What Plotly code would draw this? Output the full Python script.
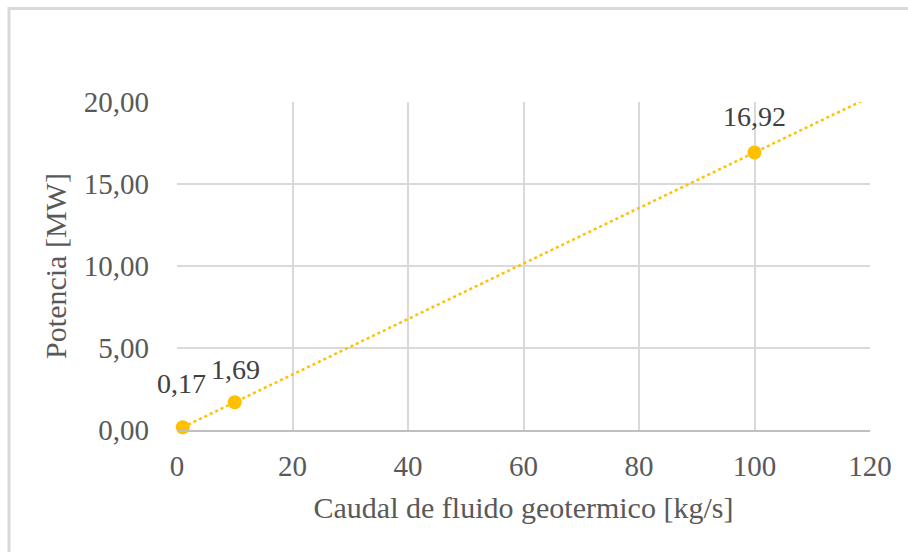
import numpy as np
import plotly.graph_objects as go

# Data
caudal = [1, 10, 100]
potencia = [0.17, 1.69, 16.92]
labels = ["0,17", "1,69", "16,92"]
x_ticks = [0, 20, 40, 60, 80, 100, 120]
y_ticks = [0, 5, 10, 15, 20]
y_tick_text = ["0,00", "5,00", "10,00", "15,00", "20,00"]
label_shift = [44, 33, 36]
label_xshift = [-1, 1, 0]

GOLD = "#FFC000"
TXT = "#595959"
GRID = "#D9D9D9"
FONT = "Liberation Serif"

# linear least-squares trendline, extended forward (clipped by the axes)
slope, intercept = np.polyfit(caudal, potencia, 1)
tx = [float(caudal[0]), 120.0]
ty = [float(slope * v + intercept) for v in tx]

fig = go.Figure()
fig.add_trace(go.Scatter(x=tx, y=ty, mode="lines",
                         line=dict(color=GOLD, width=2.5, dash="dot"),
                         hoverinfo="skip", showlegend=False))
fig.add_trace(go.Scatter(x=caudal, y=potencia, mode="markers",
                         marker=dict(color=GOLD, size=14),
                         showlegend=False, cliponaxis=False))

for xv, yv, t, s, xs in zip(caudal, potencia, labels, label_shift, label_xshift):
    fig.add_annotation(x=xv, y=yv, text=t, showarrow=False, yshift=s, xshift=xs,
                       font=dict(family=FONT, size=28, color="#404040"))

fig.update_layout(
    width=908, height=552,
    margin=dict(l=177, r=38, t=102, b=122),
    paper_bgcolor="white", plot_bgcolor="white",
)
fig.update_xaxes(range=[0, 120], tickvals=x_ticks, showgrid=True, gridcolor=GRID,
                 gridwidth=2, zeroline=False, showline=True, linecolor="#BFBFBF",
                 linewidth=2, ticks="", ticklabelstandoff=9,
                 title_text="Caudal de fluido geotermico [kg/s]",
                 title_font=dict(family=FONT, size=30, color=TXT), title_standoff=16,
                 tickfont=dict(family=FONT, size=29, color=TXT))
fig.update_yaxes(range=[0, 20], tickvals=y_ticks, ticktext=y_tick_text, showgrid=True,
                 gridcolor=GRID, gridwidth=2, zeroline=False, showline=False,
                 ticks="", ticklabelstandoff=27,
                 title_text="Potencia [MW]",
                 title_font=dict(family=FONT, size=30, color=TXT), title_standoff=8,
                 tickfont=dict(family=FONT, size=29, color=TXT))
fig.add_shape(type="rect", xref="paper", yref="paper",
              x0=-0.2424, x1=1.2, y0=-0.6, y1=1.2854,
              line=dict(color=GRID, width=3), layer="below")

fig.write_html("out.html")
